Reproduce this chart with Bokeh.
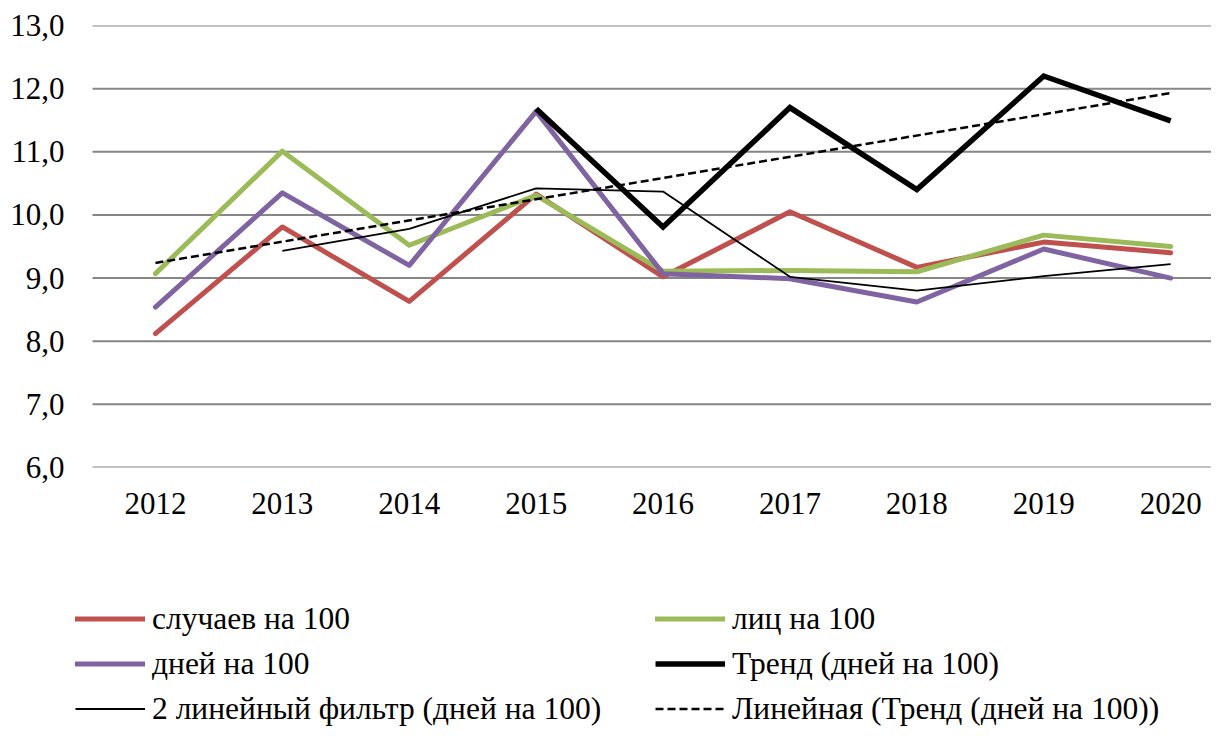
from bokeh.plotting import figure
from bokeh.layouts import column
from bokeh.models import Legend, LegendItem, FixedTicker, Range1d
from bokeh.embed import file_html
from bokeh.resources import INLINE

# ---- data ----
years = [2012, 2013, 2014, 2015, 2016, 2017, 2018, 2019, 2020]
cases_per_100 = [8.12, 9.81, 8.63, 10.33, 9.02, 10.05, 9.17, 9.57, 9.40]
persons_per_100 = [9.07, 11.01, 9.52, 10.31, 9.11, 9.12, 9.10, 9.68, 9.50]
days_per_100 = [8.54, 10.35, 9.20, 11.64, 9.07, 8.99, 8.62, 9.46, 9.00]
trend_years = [2015, 2016, 2017, 2018, 2019, 2020]
trend_days = [11.68, 9.81, 11.70, 10.40, 12.20, 11.49]
filter_years = [2013, 2014, 2015, 2016, 2017, 2018, 2019, 2020]
filter_days = [9.43, 9.78, 10.42, 10.37, 9.02, 8.80, 9.03, 9.22]
linear_years = [2012, 2020]
linear_trend = [9.24, 11.93]
y_ticks = [6, 7, 8, 9, 10, 11, 12, 13]
y_tick_labels = ["6,0", "7,0", "8,0", "9,0", "10,0", "11,0", "12,0", "13,0"]
labels = ["случаев на 100", "лиц на 100", "дней на 100", "Тренд (дней на 100)",
          "2 линейный фильтр (дней на 100)", "Линейная (Тренд (дней на 100))"]

FONT = "Liberation Serif"
W = 1211
H_MAIN = 540
H_LEG = 191
PX_PER_YEAR = 126.9
FRAME_LEFT = 75          # px, shared by chart and legend strip
PLOT_LEFT = 92           # px, where the gridded plot area starts
plot_start = years[0] - 0.496
x_start = plot_start - (PLOT_LEFT - FRAME_LEFT) / PX_PER_YEAR
x_end = x_start + (W - FRAME_LEFT) / PX_PER_YEAR

styles = [
    dict(line_color="#C0504D", line_width=5, line_join="round", line_cap="round"),
    dict(line_color="#9BBB59", line_width=5, line_join="round", line_cap="round"),
    dict(line_color="#8064A2", line_width=5, line_join="round", line_cap="round"),
    dict(line_color="black", line_width=5.5, line_join="miter"),
    dict(line_color="black", line_width=1.8),
    dict(line_color="black", line_width=2.5, line_dash="8 4"),
]

p = figure(width=W, height=H_MAIN, output_backend="svg", toolbar_location=None,
           x_range=Range1d(x_start, x_end), y_range=Range1d(6, 13),
           min_border_left=FRAME_LEFT, min_border_right=0, min_border_top=25,
           min_border_bottom=H_MAIN - 467)
p.outline_line_color = None
p.background_fill_color = "white"
p.border_fill_color = "white"
p.grid.visible = False

# horizontal gridlines of the plot area (start at the plot area's left edge)
p.segment(x0=[plot_start] * len(y_ticks), y0=y_ticks, x1=[x_end] * len(y_ticks), y1=y_ticks,
          line_color="#868686", line_width=2)

for ax in (p.xaxis[0], p.yaxis[0]):
    ax.axis_line_color = None
    ax.major_tick_line_color = None
    ax.minor_tick_line_color = None
    ax.major_tick_in = 0
    ax.major_tick_out = 0
    ax.major_label_text_font = FONT
    ax.major_label_text_font_size = "31px"
    ax.major_label_text_color = "black"

p.xaxis[0].ticker = FixedTicker(ticks=years)
p.xaxis[0].major_label_overrides = {y: str(y) for y in years}
p.xaxis[0].major_label_standoff = 25
p.yaxis[0].ticker = FixedTicker(ticks=y_ticks)
p.yaxis[0].major_label_overrides = dict(zip(y_ticks, y_tick_labels))
p.yaxis[0].major_label_standoff = 28 - (PLOT_LEFT - FRAME_LEFT)

series = [(years, cases_per_100), (years, persons_per_100), (years, days_per_100),
          (trend_years, trend_days), (filter_years, filter_days), (linear_years, linear_trend)]
for (xs, ys), st in zip(series, styles):
    p.line(xs, ys, **st)

# ---- legend strip below the chart (its sample lines use the same styles; data lies outside its view) ----
q = figure(width=W, height=H_LEG, output_backend="svg", toolbar_location=None,
           x_range=Range1d(0, 1), y_range=Range1d(0, 1),
           x_axis_location=None, y_axis_location=None,
           min_border_left=FRAME_LEFT, min_border_right=0, min_border_top=0, min_border_bottom=0)
q.grid.visible = False
q.outline_line_color = None
q.background_fill_color = "white"
q.border_fill_color = "white"
legend_renderers = [q.line(xs, ys, **st) for (xs, ys), st in zip(series, styles)]

legend = Legend(items=[LegendItem(label=l, renderers=[r]) for l, r in zip(labels, legend_renderers)],
                location=(0, 0), orientation="horizontal", ncols=2,
                glyph_width=70, glyph_height=45, label_height=45, label_width=503,
                label_standoff=7, spacing=0, padding=0, margin=0,
                border_line_alpha=0, background_fill_alpha=0,
                label_text_font=FONT, label_text_font_size="31.5px", label_text_color="black")
q.add_layout(legend)

layout = column(p, q, spacing=0)
open("out.html", "w").write(file_html(layout, INLINE))
